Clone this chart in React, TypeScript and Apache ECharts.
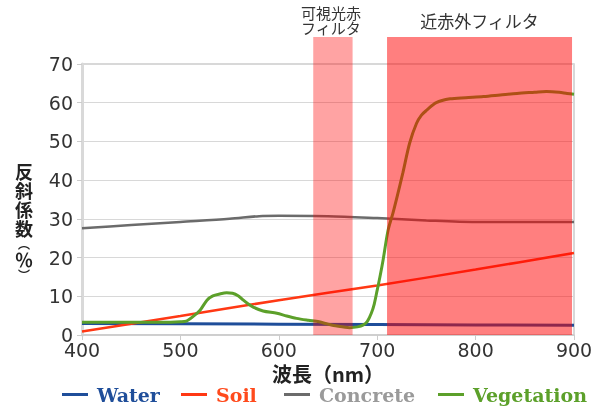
import React, { useEffect, useRef } from 'react';
import * as echarts from 'echarts';

// ---- data ----
const waterX = [400, 500, 600, 700, 800, 900];
const waterY = [3.0, 2.9, 2.8, 2.7, 2.6, 2.5];

const soilX = [400, 500, 600, 700, 800, 900];
const soilY = [0.9, 4.9, 9.0, 12.8, 16.9, 21.2];

const concreteX = [400, 450, 500, 550, 580, 600, 650, 700, 750, 800, 850, 900];
const concreteY = [27.6, 28.4, 29.2, 30.0, 30.7, 30.8, 30.7, 30.2, 29.6, 29.2, 29.2, 29.2];

const vegX = [400, 450, 490, 500, 506, 513, 520, 527, 533, 540, 547, 553, 559, 564, 569, 574, 584, 598, 608, 618, 630, 641, 650, 659, 672, 680, 686, 690, 694, 697, 700, 703, 706, 711, 716, 720, 726, 733, 740, 745, 750, 760, 774, 790, 808, 825, 842, 860, 872, 885, 893, 900];
const vegY = [3.3, 3.3, 3.3, 3.4, 3.6, 4.8, 6.4, 9.0, 10.1, 10.6, 10.9, 10.8, 10.1, 9.0, 8.0, 7.2, 6.2, 5.6, 4.9, 4.3, 3.8, 3.4, 2.8, 2.3, 1.9, 2.1, 2.6, 3.5, 5.6, 8.0, 11.6, 15.3, 19.4, 27.0, 31.5, 35.5, 41.8, 49.6, 54.7, 56.8, 58.0, 60.0, 61.0, 61.3, 61.6, 62.0, 62.4, 62.7, 62.9, 62.7, 62.4, 62.2];

const xTicks = [400, 500, 600, 700, 800, 900];
const yTicks = [0, 10, 20, 30, 40, 50, 60, 70];

// filter bands: [from nm, to nm, top value]
const visibleBand = [635, 675, 77];
const nirBand = [710, 898, 77];
const visibleLabel = '可視光赤\nフィルタ';
const nirLabel = '近赤外フィルタ';

const seriesNames = ['Water', 'Soil', 'Concrete', 'Vegetation'];
const lineColors = ['#1f4e9a', '#ff3814', '#6b6b6b', '#5ca02a'];
const legendTextColors = ['#1f4e9a', '#ff4a1c', '#9a9a9a', '#5ca02a'];

const zip = (xs: number[], ys: number[]) => xs.map((x, i) => [x, ys[i]]);

export default function App() {
  const ref = useRef<HTMLDivElement>(null);
  useEffect(() => {
    const chart = echarts.init(ref.current!, null, { renderer: 'svg' });
    const legendLefts = [57, 176, 279, 433];
    const option: any = {
      animation: false,
      grid: { left: 82, right: 24, top: 64, bottom: 71, show: true, borderColor: '#cccccc', borderWidth: 1.5 },
      xAxis: {
        type: 'value',
        min: xTicks[0],
        max: xTicks[xTicks.length - 1],
        interval: 100,
        name: '波長（nm）',
        nameLocation: 'middle',
        nameGap: 19,
        nameTextStyle: { fontFamily: 'Noto Sans CJK JP', fontSize: 20, fontWeight: 'bold', color: '#222' },
        axisLine: { show: true, lineStyle: { color: '#cccccc', width: 1.5 } },
        axisTick: { show: true, length: 5, lineStyle: { color: '#cccccc' } },
        axisLabel: { fontFamily: 'DejaVu Sans', fontSize: 19, color: '#333', margin: 5 },
        splitLine: { show: false },
      },
      yAxis: {
        type: 'value',
        min: yTicks[0],
        max: yTicks[yTicks.length - 1],
        interval: 10,
        name: '反\n斜\n係\n数\n{p|︵}\n％\n{p|︶}',
        nameLocation: 'middle',
        nameRotate: 0,
        nameGap: 49,
        nameTextStyle: {
          fontFamily: 'Noto Sans CJK JP', fontSize: 18, fontWeight: 'bold', color: '#222', lineHeight: 19,
          padding: [42, 0, 0, 0],
          rich: { p: { fontFamily: 'Noto Sans CJK JP', fontSize: 12, fontWeight: 'bold', color: '#222', lineHeight: 12, width: 18, align: 'center' } },
        },
        axisLine: { show: true, lineStyle: { color: '#d9d9d9', width: 3 } },
        axisTick: { show: true, length: 5, lineStyle: { color: '#cccccc' } },
        axisLabel: { fontFamily: 'DejaVu Sans', fontSize: 19, color: '#333', margin: 9 },
        splitLine: { show: true, lineStyle: { color: '#d8d8d8', width: 1 } },
      },
      legend: seriesNames.map((n, i) => ({
        data: [n],
        left: legendLefts[i],
        top: 380,
        icon: 'rect',
        itemWidth: 26,
        itemHeight: 3,
        itemGap: 0,
        textStyle: { fontFamily: 'DejaVu Serif', fontWeight: 'bold', fontSize: 19, color: legendTextColors[i], padding: [0, 0, 0, 4] },
      })),
      series: [
        { name: 'Water', type: 'line', data: zip(waterX, waterY), showSymbol: false, lineStyle: { width: 3, color: lineColors[0] }, itemStyle: { color: lineColors[0] }, z: 3 },
        { name: 'Soil', type: 'line', data: zip(soilX, soilY), showSymbol: false, smooth: 0.3, lineStyle: { width: 2.5, color: lineColors[1] }, itemStyle: { color: lineColors[1] }, z: 3 },
        { name: 'Concrete', type: 'line', data: zip(concreteX, concreteY), showSymbol: false, smooth: 0.3, lineStyle: { width: 2.5, color: lineColors[2] }, itemStyle: { color: lineColors[2] }, z: 3 },
        { name: 'Vegetation', type: 'line', data: zip(vegX, vegY), showSymbol: false, smooth: 0.3, lineStyle: { width: 3, color: lineColors[3] }, itemStyle: { color: lineColors[3] }, z: 3 },
      ],
    };
    chart.setOption(option);

    const px = (x: number, y: number) => chart.convertToPixel({ xAxisIndex: 0, yAxisIndex: 0 }, [x, y]) as number[];
    const band = (b: number[], fill: string) => {
      const p0 = px(b[0], b[2]);
      const p1 = px(b[1], 0);
      return { type: 'rect', z: 100, shape: { x: p0[0], y: p0[1], width: p1[0] - p0[0], height: p1[1] - p0[1] }, style: { fill } };
    };
    const vTop = px((visibleBand[0] + visibleBand[1]) / 2, visibleBand[2]);
    const nTop = px((nirBand[0] + nirBand[1]) / 2, nirBand[2]);
    chart.setOption({
      graphic: [
        band(visibleBand, 'rgba(255,0,0,0.36)'),
        band(nirBand, 'rgba(255,0,0,0.5)'),
        {
          type: 'text', z: 101, x: vTop[0] - 2, y: vTop[1] - 2,
          style: { text: visibleLabel, align: 'center', verticalAlign: 'bottom', fontFamily: 'Noto Sans CJK JP', fontSize: 15, lineHeight: 15, fill: '#333' },
        },
        {
          type: 'text', z: 101, x: nTop[0], y: nTop[1] - 8,
          style: { text: nirLabel, align: 'center', verticalAlign: 'bottom', fontFamily: 'Noto Sans CJK JP', fontSize: 17, fill: '#333' },
        },
      ],
    });
    return () => chart.dispose();
  }, []);
  return <div ref={ref} style={{ position: 'fixed', left: 0, top: 0, width: 598, height: 406 }} />;
}
